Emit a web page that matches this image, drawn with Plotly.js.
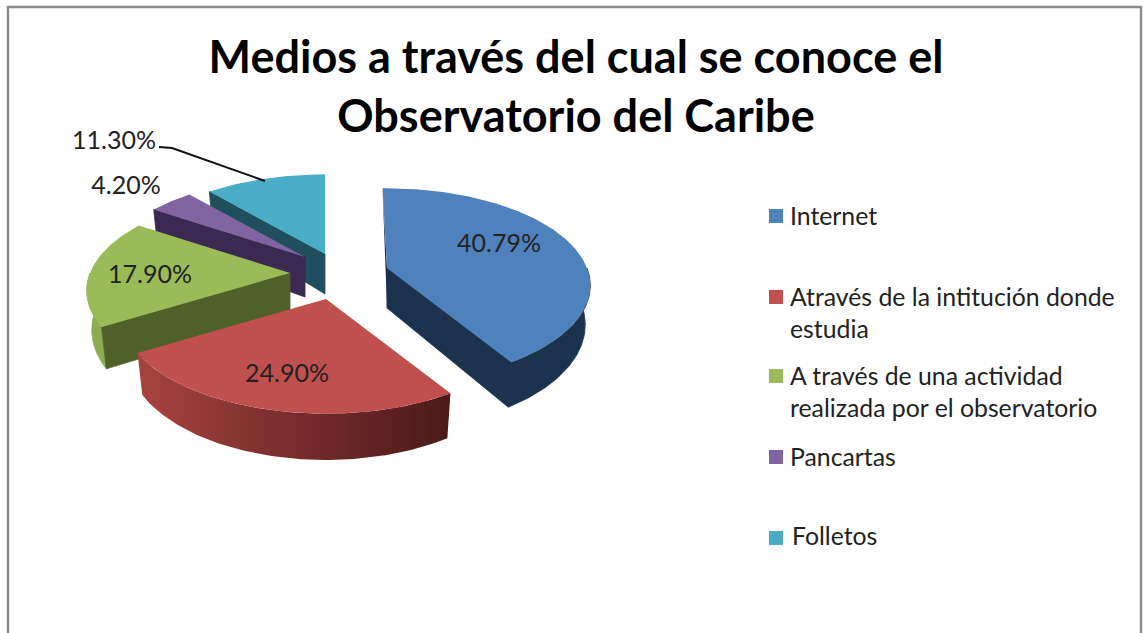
<!DOCTYPE html>
<html><head><meta charset="utf-8">
<script src="https://cdn.plot.ly/plotly-3.0.1.min.js"></script>
<style>html,body{margin:0;padding:0;background:#fff;overflow:hidden}#c{width:1144px;height:633px}</style>
</head><body><div id="c"></div>
<script>
const categories = ["Internet", "Através de la intitución donde\nestudia", "A través de una actividad\nrealizada por el observatorio", "Pancartas", "Folletos"];
const values = [40.79, 24.90, 17.90, 4.20, 11.30];
const titleText = "Medios a través del cual se conoce el<br>Observatorio del Caribe";

const topColors = ["#4f81bd", "#c0504d", "#9bbb59", "#8064a2", "#4bacc6"];
const wallColors = ["#1c334f", "#6e2a28", "#4f6029", "#3a2950", "#1f4e5c"];
const arcWallColors = ["#1c334f", "#6e2a28", "#8dab50", "#3a2950", "#1f4e5c"];
const apexX = [387, 326, 290, 305, 325];
const apexY = [268, 299, 273, 257, 254];
const drawOrder = [4, 3, 0, 2, 1];
const labelX = [499, 287, 150, 126, 114];
const labelY = [246, 376, 277, 188, 143];
const legendMarkerY = [216, 297, 376, 457, 538];
const legendTextY = [219, 300, 379, 460, 539];
const legendTextX = [790, 790, 790, 790, 792];
const LEGEND_MARKER_X = 776, LINE_GAP = 32;
const RX = 200, RY = 94, PERSP = 0.18, DEPTH = 38, CUT_DEPTH = 40, BOTTOM_SCALE = 0.975;
const INTERNET_LEAD = 1.5 * Math.PI / 180;
const LABEL_FONT = {family: "Lato", size: 25, color: "#222"};
const LEGEND_FONT = {family: "Lato", size: 24.8, color: "#222"};

const total = values.reduce((a, b) => a + b, 0);
const project = (t, i) => {
  const d = 1 + PERSP * Math.cos(t);
  const x = RX * Math.sin(t) / d;
  return {x: apexX[i] + x, bx: apexX[i] + x * BOTTOM_SCALE, y: apexY[i] - RY * Math.cos(t) / d, depth: DEPTH / d};
};
let running = 0;
const spans = values.map(v => { const s = running; running += v / total * 2 * Math.PI; return [s, running]; });
spans[0][0] -= INTERNET_LEAD;
const arc = (i, from, to) => {
  const n = Math.max(2, Math.ceil((to - from) / 0.02));
  return Array.from({length: n + 1}, (_, k) => project(from + (to - from) * k / n, i));
};
const poly = (xs, ys, extra) => Object.assign({type: "scatter", mode: "lines", x: xs, y: ys, fill: "toself",
  line: {width: 0}, hoverinfo: "skip", showlegend: false}, extra);

const traces = [];
drawOrder.forEach(i => {
  const [a, b] = spans[i];
  const wallStyle = i === 1
    ? {fillgradient: {type: "horizontal", colorscale: [[0, "#a8433f"], [0.45, "#7c2f2d"], [1, "#4b1a19"]]}}
    : {fillcolor: arcWallColors[i], line: {width: 0.8, color: arcWallColors[i]}};
  const s = project(a, i), e = project(b, i), ax = apexX[i], ay = apexY[i];
  if (i === 0) {
    traces.push(poly([s.x, ax, ax, s.x], [s.y, ay, ay + CUT_DEPTH, s.y], {fillcolor: wallColors[i]}));
  }
  // rounded outer wall, only the front part shows
  const from = Math.max(a, Math.PI / 2), to = Math.min(b, 1.5 * Math.PI);
  if (to > from) {
    const pts = arc(i, from, to);
    traces.push(poly(
      pts.map(p => p.x).concat(pts.slice().reverse().map(p => p.bx)),
      pts.map(p => p.y).concat(pts.slice().reverse().map(p => p.y + p.depth)),
      wallStyle));
  }
  // cut faces that look towards the viewer
  if (i !== 1) {
    const edge = i === 0 ? e : s;
    traces.push(poly([ax, edge.x, edge.bx, ax, ax], [ay, edge.y, edge.y + edge.depth, ay + CUT_DEPTH, ay],
      {fillcolor: wallColors[i], line: {width: 0.8, color: wallColors[i]}}));
  }
  const top = arc(i, a, b);
  traces.push(poly([ax].concat(top.map(p => p.x), [ax]), [ay].concat(top.map(p => p.y), [ay]), {fillcolor: topColors[i]}));
});

traces.push({type: "scatter", mode: "text", x: labelX, y: labelY,
  text: values.map(v => v.toFixed(2) + "%"), textposition: "middle center",
  textfont: LABEL_FONT, hoverinfo: "skip", showlegend: false});

traces.push({type: "scatter", mode: "markers", x: categories.map(() => LEGEND_MARKER_X), y: legendMarkerY,
  marker: {symbol: "square", size: 14, color: topColors}, hoverinfo: "skip", showlegend: false});

const legendX = [], legendY = [], legendT = [];
categories.forEach((c, i) => c.split("\n").forEach((line, j) => {
  legendX.push(legendTextX[i]); legendY.push(legendTextY[i] + j * LINE_GAP); legendT.push(line);
}));
traces.push({type: "scatter", mode: "text", x: legendX, y: legendY, text: legendT, textposition: "middle right",
  textfont: LEGEND_FONT, hoverinfo: "skip", showlegend: false});

const layout = {
  width: 1144, height: 633, margin: {l: 0, r: 0, t: 0, b: 0, pad: 0},
  paper_bgcolor: "#fff", plot_bgcolor: "#fff", showlegend: false,
  title: {text: titleText, x: 576 / 1144, xanchor: "center", y: 1 - 73 / 633, yanchor: "top",
    font: {family: "Lato", size: 45, weight: 700, color: "#000"}},
  xaxis: {range: [0, 1144], visible: false, fixedrange: true},
  yaxis: {range: [633, 0], visible: false, fixedrange: true},
  shapes: [
    {type: "path", path: "M 159 147 L 172 148 L 265 181", line: {color: "#111", width: 2}},
    {type: "path", path: "M 8 640 L 8 7 L 1141 7 L 1141 640", line: {color: "#8c8c8c", width: 2.5}}
  ]
};
Plotly.newPlot("c", traces, layout, {displayModeBar: false, staticPlot: true});
</script></body></html>
